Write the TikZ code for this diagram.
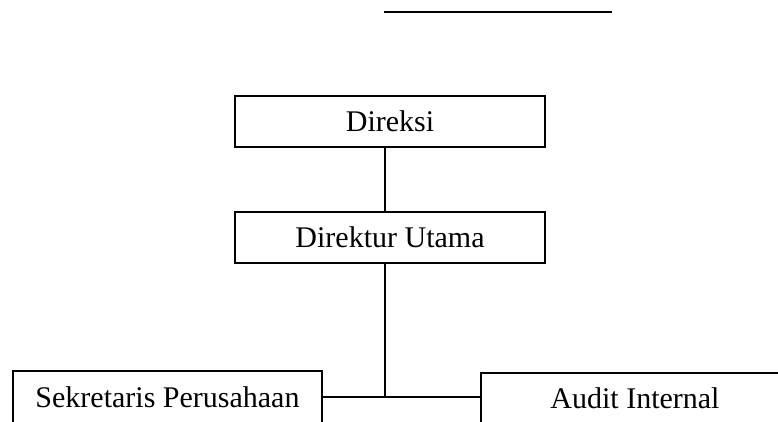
\documentclass[tikz,border=0pt]{standalone}
\usepackage{fontspec}
\setmainfont{Liberation Serif}
\usetikzlibrary{positioning}

\tikzset{
    unit/.style={draw, line width=0.7pt, minimum width=155pt, minimum height=25.5pt, inner sep=0pt, font=\fontsize{15}{18}\selectfont},
    link/.style={line width=1pt}
}

\begin{document}
\begin{tikzpicture}[x=0.5pt, y=-0.5pt]
    \useasboundingbox (0,0) rectangle (778,422);
    \clip (0,0) rectangle (778,422);

    % Rule at the top
    \coordinate (ruleA) at (384,12);
    \coordinate (ruleB) at (612,12);
    \draw[line width=1.1pt] (ruleA) -- (ruleB);

    % Boxes
    \node (direksi) at (390,121.5) [unit] {Direksi};
    \node (dirut) at (390,237.5) [unit] {Direktur Utama};
    \node (sekper) at (167.5,397) [unit, minimum width=154.5pt, minimum height=26pt] {Sekretaris Perusahaan};
    \node (audit) at (635,398) [unit, minimum width=154pt, minimum height=25pt] {Audit Internal};

    % Junction below Direktur Utama
    \coordinate (jct) at (385,397);

    % Lines
    \draw[link] (direksi.south -| jct) -- (dirut.north -| jct);
    \draw[link] (dirut.south -| jct) -- (jct);
    \draw[link] (sekper.east |- jct) -- (jct);
    \draw[link] (jct) -- (audit.west |- jct);
\end{tikzpicture}
\end{document}
